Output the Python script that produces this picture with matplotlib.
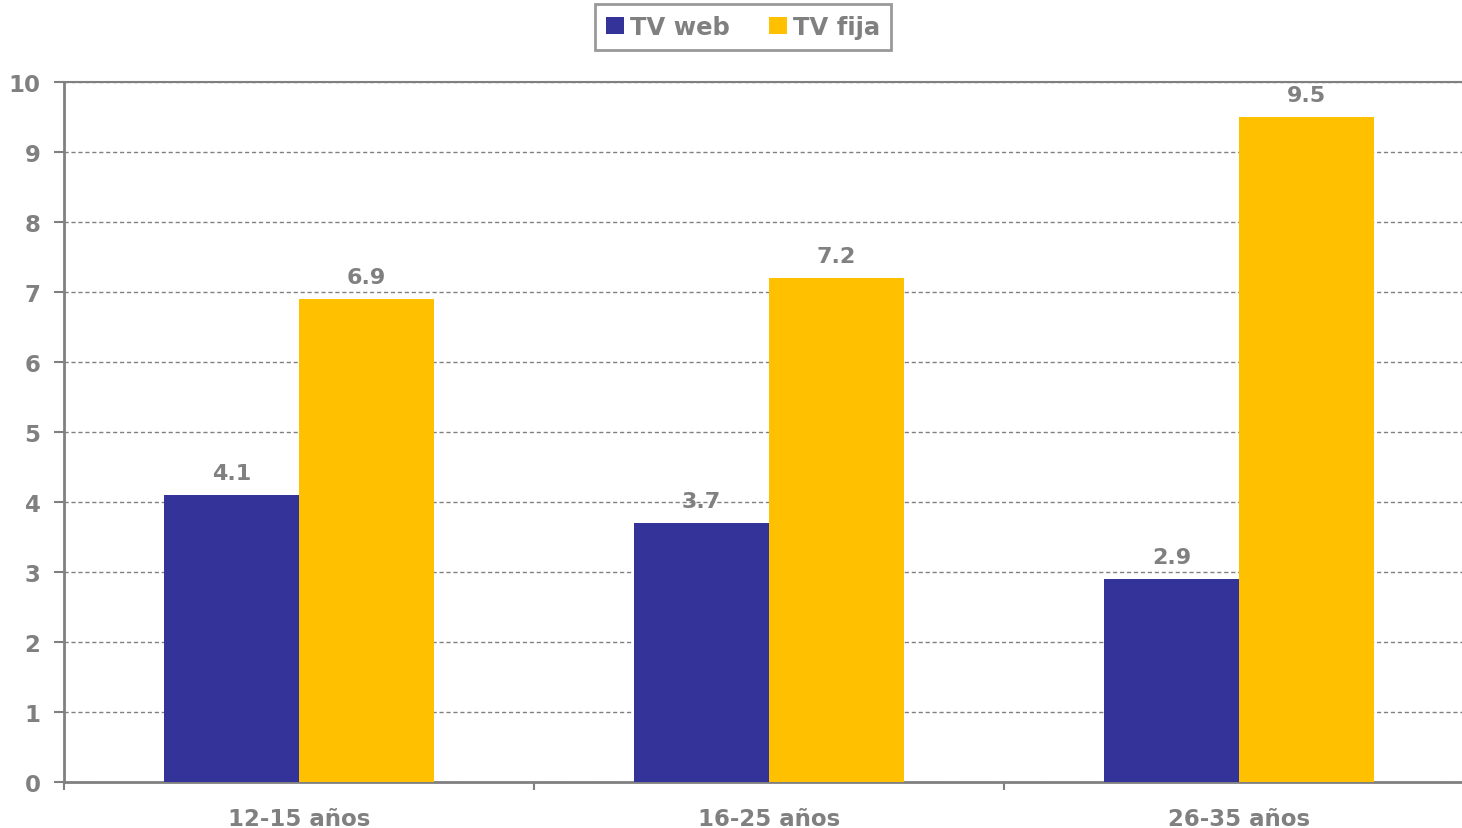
import matplotlib.pyplot as plt
import numpy as np

# data
categories = ["12-15 años", "16-25 años", "26-35 años"]
tv_web = [4.1, 3.7, 2.9]
tv_fija = [6.9, 7.2, 9.5]
yticks = list(range(0, 11))

BLUE = '#333399'
YELLOW = '#FFC000'
GRAY = '#808080'
FONT = 'DejaVu Sans'

fig = plt.figure(figsize=(14.62, 8.29), dpi=100)
ax = fig.add_axes([64 / 1462, 1 - 783 / 829, 1410 / 1462, 700 / 829])

x = np.arange(len(categories))
w = 0.287
b1 = ax.bar(x - w / 2, tv_web, w, color=BLUE, label='TV web', zorder=3)
b2 = ax.bar(x + w / 2, tv_fija, w, color=YELLOW, label='TV fija', zorder=3)

for bars, vals in [(b1, tv_web), (b2, tv_fija)]:
    for r, v in zip(bars, vals):
        ax.text(r.get_x() + r.get_width() / 2, v + 0.17, f"{v:.1f}",
                ha='center', va='bottom', fontsize=16, fontweight='bold',
                color=GRAY, fontfamily=FONT, zorder=4)

ax.set_xlim(-0.5, 2.5)
ax.set_ylim(0, 10)
ax.set_yticks(yticks)
ax.set_yticklabels([str(t) for t in yticks])
ax.yaxis.grid(True, linestyle=(0, (3, 2)), color=GRAY, linewidth=1, zorder=0)
ax.set_axisbelow(True)

# category ticks at group boundaries, labels at group centres
ax.set_xticks([-0.5, 0.5, 1.5, 2.5])
ax.set_xticklabels([])
ax.set_xticks(x, minor=True)
ax.set_xticklabels(categories, minor=True)
ax.tick_params(axis='x', which='minor', length=0, pad=18)
ax.tick_params(axis='x', which='major', length=6, width=1.5, color=GRAY, direction='out')
ax.tick_params(axis='y', length=7, width=1.5, color=GRAY, pad=10)

for lab in ax.get_xticklabels(minor=True) + ax.get_yticklabels():
    lab.set_fontsize(16.5)
    lab.set_fontweight('bold')
    lab.set_color(GRAY)
    lab.set_fontfamily(FONT)

for s in ['left', 'bottom']:
    ax.spines[s].set_color(GRAY)
    ax.spines[s].set_linewidth(2)
ax.spines['top'].set_color(GRAY)
ax.spines['top'].set_linewidth(1.5)
ax.spines['right'].set_visible(False)

leg = fig.legend(loc='center', bbox_to_anchor=(743 / 1462, 1 - 28 / 829), ncol=2,
                 frameon=True, fancybox=False, handlelength=0.75, handleheight=0.75,
                 handletextpad=0.25, columnspacing=1.6, borderpad=0.45, borderaxespad=0,
                 prop={'family': FONT, 'weight': 'bold', 'size': 17.5})
leg.get_frame().set_edgecolor(GRAY)
leg.get_frame().set_linewidth(2)
for t in leg.get_texts():
    t.set_color(GRAY)

fig.savefig('out.png', dpi=100, facecolor='white')
